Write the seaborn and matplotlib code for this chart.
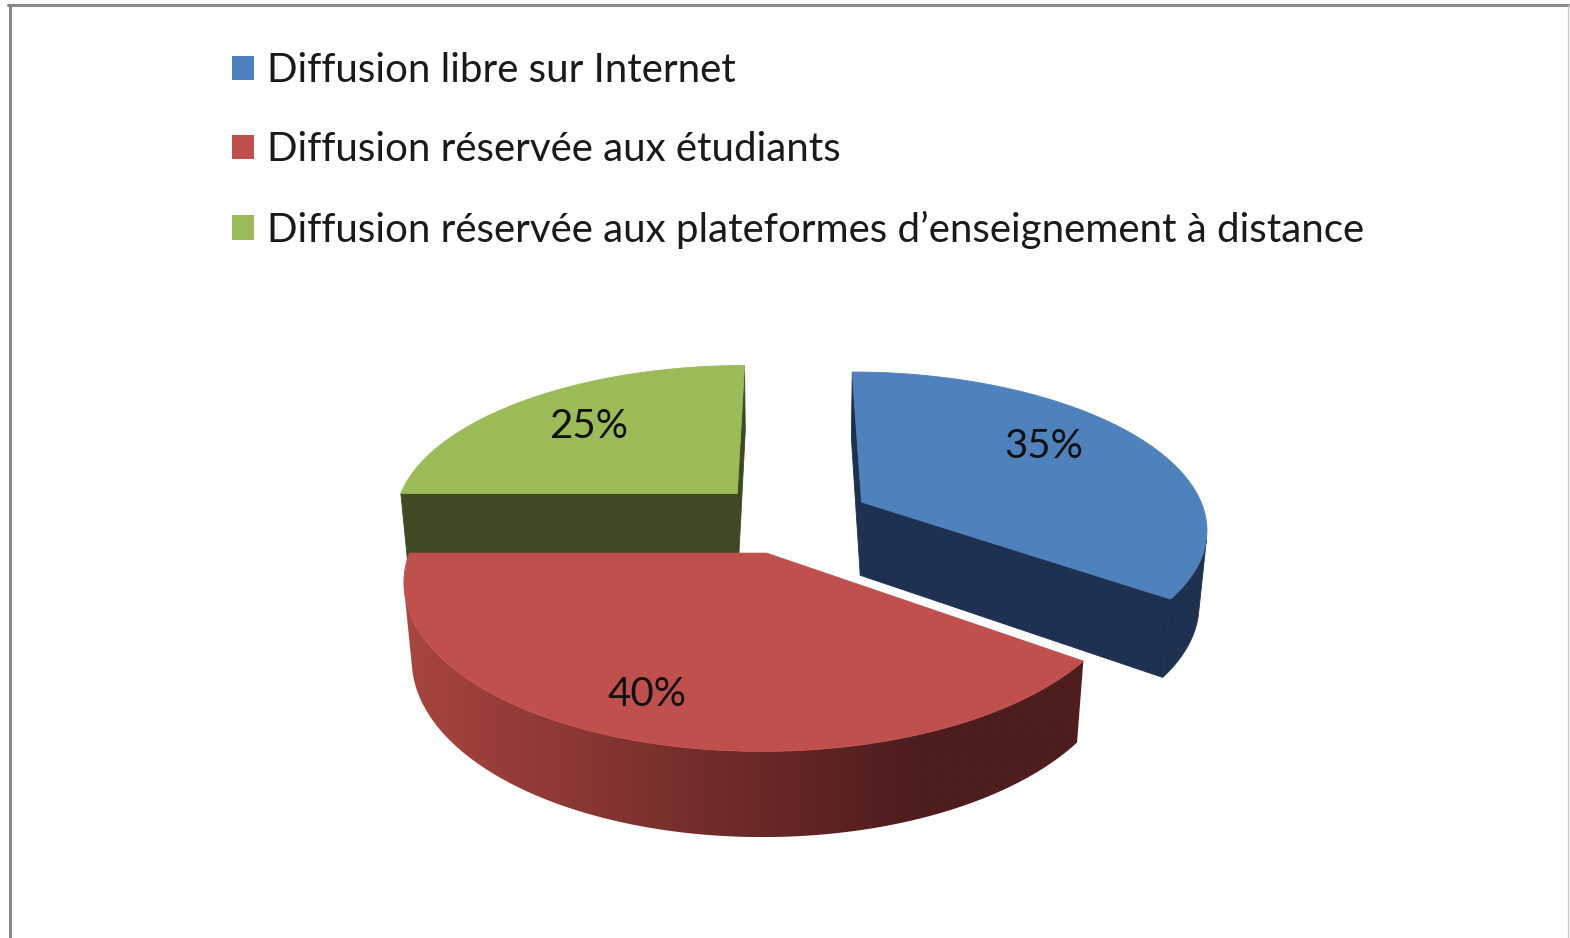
import numpy as np
import matplotlib
matplotlib.use("Agg")
import matplotlib.pyplot as plt
import seaborn as sns
from matplotlib.patches import Polygon, Patch
from matplotlib.colors import LinearSegmentedColormap
from matplotlib.lines import Line2D

sns.set_theme(style="white")
plt.rcParams['font.family'] = ['Lato', 'DejaVu Sans']

# data
labels = ["Diffusion libre sur Internet",
          "Diffusion réservée aux étudiants",
          "Diffusion réservée aux plateformes d’enseignement à distance"]
values = [35, 40, 25]
pct_labels = ["35%", "40%", "25%"]
top_colors = ["#4F81BD", "#C0504D", "#9BBB59"]
side_light = ["#1F3150", "#A8453F", "#3F4A22"]
side_dark = ["#1F3150", "#4E1D1D", "#3F4A22"]

# 3d view settings
EXPLODE = 0.23
THICK = 0.245
ELEV = np.radians(26.7)
SE, CE = np.sin(ELEV), np.cos(ELEV)
PERSP = 0.175
CAM = np.array([0.0, -CE / PERSP, SE / PERSP])
label_r = [0.70, 0.80, 0.69]
label_da = [7, -3, 0]


def project(x, y, z):
    d = y * CE - z * SE
    w = 1 + PERSP * d
    return x / w, (y * SE + z * CE) / w


def proj_pts(pts):
    return np.array([project(*p) for p in pts])


def visible(point, normal):
    return np.dot(CAM - np.array(point), np.array(normal)) > 0


def draw_face(ax, pts, c1, c2):
    xy = proj_pts(pts)
    if c1 == c2:
        ax.add_patch(Polygon(xy, closed=True, facecolor=c1, edgecolor=c1, lw=0.6, zorder=2))
        return
    poly = Polygon(xy, closed=True, facecolor='none', edgecolor='none', zorder=2)
    ax.add_patch(poly)
    x0, x1 = xy[:, 0].min(), xy[:, 0].max()
    y0, y1 = xy[:, 1].min(), xy[:, 1].max()
    g = np.clip(np.linspace(0, 1, 400) / 0.75, 0, 1)[None, :]
    cmap = LinearSegmentedColormap.from_list("side", [c1, c2])
    im = ax.imshow(g, cmap=cmap, extent=(x0, x1, y0, y1), aspect='auto',
                   vmin=0, vmax=1, zorder=2, interpolation='bilinear')
    im.set_clip_path(poly)


fig = plt.figure(figsize=(15.7, 9.38), dpi=100)
fig.patch.set_facecolor('white')
ax = fig.add_axes([0, 0, 1, 1])
ax.set_xlim(-792 / 345, (1570 - 792) / 345)
ax.set_ylim((518 - 938) / 345, 518 / 345)
ax.axis('off')

# slice angles (start at 12 o'clock, clockwise)
fracs = np.array(values) / np.sum(values)
starts = 90 - 360 * np.concatenate([[0], np.cumsum(fracs)[:-1]])
ends = starts - 360 * fracs

slices = []
for i in range(len(values)):
    a0, a1 = np.radians(starts[i]), np.radians(ends[i])
    mid = (a0 + a1) / 2
    cx, cy = EXPLODE * np.cos(mid), EXPLODE * np.sin(mid)
    slices.append((cy * CE, i, a0, a1, mid, cx, cy))

# draw back to front
for _, i, a0, a1, mid, cx, cy in sorted(slices, reverse=True):
    ts = np.linspace(a0, a1, 240)
    # radial faces
    for a, sgn in ((a0, 1), (a1, -1)):
        n = (np.cos(a + sgn * np.pi / 2), np.sin(a + sgn * np.pi / 2), 0)
        if visible((cx, cy, -THICK / 2), n):
            rx, ry = cx + np.cos(a), cy + np.sin(a)
            pts = [(cx, cy, 0), (rx, ry, 0), (rx, ry, -THICK), (cx, cy, -THICK)]
            draw_face(ax, pts, side_dark[i], side_dark[i])
    # outer wall
    vis = np.array([visible((cx + np.cos(t), cy + np.sin(t), -THICK / 2),
                            (np.cos(t), np.sin(t), 0)) for t in ts])
    if vis.any():
        tv = ts[vis]
        pts = [(cx + np.cos(t), cy + np.sin(t), 0) for t in tv] + \
              [(cx + np.cos(t), cy + np.sin(t), -THICK) for t in tv[::-1]]
        draw_face(ax, pts, side_light[i], side_dark[i])
    # top
    pts = [(cx, cy, 0)] + [(cx + np.cos(t), cy + np.sin(t), 0) for t in ts]
    draw_face(ax, pts, top_colors[i], top_colors[i])
    # percentage label
    la = mid + np.radians(label_da[i])
    lx, ly = project(cx + label_r[i] * np.cos(la), cy + label_r[i] * np.sin(la), 0)
    ax.text(lx, ly, pct_labels[i], ha='center', va='center', fontsize=29,
            color='#111111', zorder=5)

handles = [Patch(facecolor=c, edgecolor='none', label=l) for c, l in zip(top_colors, labels)]
ax.legend(handles=handles, loc='upper left', bbox_to_anchor=(232 / 1570, 1 - 52 / 938),
          bbox_transform=fig.transFigure, frameon=False, fontsize=29,
          handlelength=0.55, handleheight=0.55, handletextpad=0.32, labelspacing=1.05,
          borderpad=0, borderaxespad=0, labelcolor='#1a1a1a')

# chart frame
fig.add_artist(Line2D([8 / 1570, 1], [1 - 5.5 / 938] * 2, color='#888888', lw=2.2,
                      transform=fig.transFigure))
fig.add_artist(Line2D([10 / 1570] * 2, [0, 1 - 5.5 / 938], color='#888888', lw=2.2,
                      transform=fig.transFigure))
fig.add_artist(Line2D([1567.5 / 1570] * 2, [0, 1 - 5.5 / 938], color='#c8c8c8', lw=1,
                      transform=fig.transFigure))

fig.savefig("out.png", dpi=100, facecolor='white')
